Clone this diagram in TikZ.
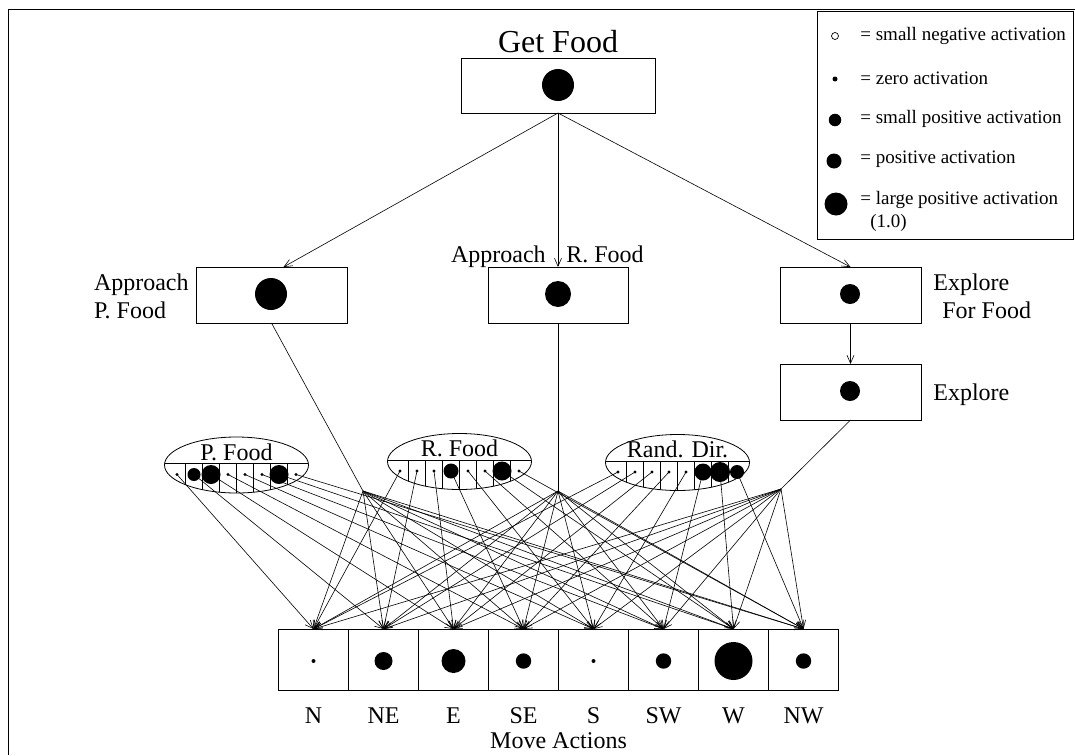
\documentclass[tikz,border=0pt]{standalone}
\usepackage{fontspec}
\setmainfont{Liberation Serif}
\usetikzlibrary{arrows.meta,shapes.geometric}
\begin{document}
\begin{tikzpicture}[x=1pt,y=-1pt,
  line width=0.7pt,
  box/.style={draw, line width=0.9pt, inner sep=0pt, outer sep=0pt},
  act/.style={fill=black, circle, inner sep=0pt, outer sep=0pt},
  lab/.style={font=\fontsize{24}{27}\selectfont, inner sep=0pt},
  leg/.style={font=\fontsize{19}{21}\selectfont, inner sep=0pt, anchor=west},
  arr/.style={-{Straight Barb[length=8pt,width=7pt]}, line width=0.6pt},
  wire/.style={line width=0.6pt},
  oval/.style={draw, ellipse, line width=0.8pt, minimum width=144pt, minimum height=56pt, inner sep=0pt}
]
\useasboundingbox (0,0) rectangle (1075,755);

% frame
\draw[line width=0.9pt] (8,755) -- (8,9) -- (1075,9);

% legend
\node[box, minimum width=256pt, minimum height=228pt] (legend) at (945,125) {};
\node[circle, draw, line width=0.7pt, minimum size=7pt, inner sep=0pt] (l1) at (835,36) {};
\node[act, minimum size=5pt] (l2) at (835,79) {};
\node[act, minimum size=12.5pt] (l3) at (835,120) {};
\node[act, minimum size=15pt] (l4) at (834,161) {};
\node[act, minimum size=23pt] (l5) at (836,204) {};
\node[leg] (t1) at (860,36) {= small negative activation};
\node[leg] (t2) at (860,78) {= zero activation};
\node[leg] (t3) at (860,119) {= small positive activation};
\node[leg] (t4) at (860,159) {= positive activation};
\node[leg] (t5) at (860,200) {= large positive activation};
\node[leg] (t6) at (870,223) {(1.0)};

% top-level behaviours
\node[lab, font=\fontsize{32}{36}\selectfont] (gft) at (558,42) {Get Food};
\node[box, minimum width=194pt, minimum height=55pt] (gf) at (558,85.5) {};
\node[act, minimum size=32pt] (gfa) at (558,85) {};

\node[box, minimum width=151pt, minimum height=56pt] (apf) at (271.5,295) {};
\node[act, minimum size=32pt] (apfa) at (271,294) {};
\node[lab, anchor=base east] (apft1) at (189,290) {Approach};
\node[lab, anchor=base west] (apft2) at (apft1.base west) [yshift=-28pt] {P. Food};

\node[box, minimum width=140pt, minimum height=56pt] (arf) at (558,295) {};
\node[act, minimum size=26pt] (arfa) at (558,294) {};
\node[lab, anchor=base east] (arft1) at (546,262) {Approach};
\node[lab, anchor=base west] (arft2) at (566,262) {R. Food};

\node[box, minimum width=141pt, minimum height=56pt] (eff) at (850.5,295) {};
\node[act, minimum size=20pt] (effa) at (850,294) {};
\node[lab, anchor=base west] (efft1) at (933,290) {Explore};
\node[lab, anchor=base west] (efft2) at (942,318) {For Food};

\node[box, minimum width=141pt, minimum height=56pt] (ex) at (850.5,392) {};
\node[act, minimum size=20pt] (exa) at (850,391) {};
\node[lab, anchor=base west] (ext) at (933,400) {Explore};

\draw[arr] (gf.south) -- ([xshift=12pt]apf.north);
\draw[arr] (gf.south) -- (arf.north);
\draw[arr] (gf.south) -- (eff.north);
\draw[arr] (eff.south) -- (ex.north);

% move actions
\foreach \i/\x/\r/\t in {1/313.5/2/N, 2/383.5/9/NE, 3/453.5/12/E, 4/523.5/7.7/SE,
                         5/593.5/2/S, 6/663.5/7.7/SW, 7/733.5/19/W, 8/803.5/7.7/NW} {
  \node[box, minimum width=70pt, minimum height=61pt] (a\i) at (\x,659.5) {};
  \node[act, minimum size=2*\r pt] (a\i c) at (\x,661) {};
  \node[lab] (a\i t) at (\x,716) {\t};
}
\node[lab] (mat) at (558.5,741) {Move Actions};

% hubs where the behaviour outputs fan out
\coordinate (h1) at (363,491);
\coordinate (h2) at (558,491);
\coordinate (h3) at (781,489);
\draw[wire] (apf.south) -- (h1);
\draw[wire] (arf.south) -- (h2);
\draw[wire] (ex.south) -- (h3);

% perception ovals: name, centre, label, dot radii
\foreach \n/\cx/\cy/\txt/\ra/\rb/\rc/\rd/\re/\rf/\rg/\rh in {
   pf/236.5/465/{P. Food}/1.7/6.5/9.5/1.7/1.7/1.7/9.5/1.7,
   rf/459.5/461.5/{R. Food}/1.7/1.7/1.7/7.5/1.7/1.7/9.5/1.7,
   rd/677.5/462.5/{Rand. Dir.}/1.7/1.7/1.7/1.7/1.7/8.5/10/7} {
  \node[oval] (\n e) at (\cx,\cy) {};
  \begin{scope}
    \clip (\cx,\cy) ellipse [x radius=72, y radius=28];
    \draw[line width=0.8pt] (\cx-80,\cy-1.5) -- (\cx+80,\cy-1.5);
    \foreach \k in {0,...,6}
      \draw[line width=0.6pt] (\cx-51+17*\k,\cy-1.5) -- (\cx-51+17*\k,\cy+40);
  \end{scope}
  \node[lab, anchor=base] (\n t) at (\cx,\cy-5) {\txt};
  \foreach \k/\r in {1/\ra,2/\rb,3/\rc,4/\rd,5/\re,6/\rf,7/\rg,8/\rh}
    \node[act, minimum size=2*\r pt] (\n\k) at (\cx-76.5+17*\k,\cy+9.5) {};
}

% connections into the move actions
\foreach \k in {1,...,8} {
  \draw[arr] (h1) -- (a\k.north);
  \draw[arr] (h2) -- (a\k.north);
  \draw[arr] (h3) -- (a\k.north);
  \draw[arr] (pf\k.center) -- (a\k.north);
  \draw[arr] (rf\k.center) -- (a\k.north);
  \draw[arr] (rd\k.center) -- (a\k.north);
}
\end{tikzpicture}
\end{document}
